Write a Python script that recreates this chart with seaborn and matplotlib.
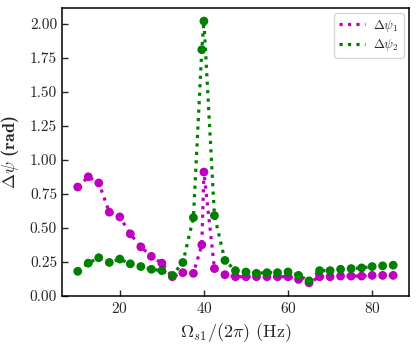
# -*- coding: utf-8 -*-
# phase difference vs modulation frequency
import seaborn as sns
import matplotlib.pyplot as plt
import pandas as pd

sns.set_style("white")
plt.rcParams['font.family'] = ['cmr10', 'DejaVu Serif']
plt.rcParams['mathtext.fontset'] = 'cm'
plt.rcParams['axes.formatter.use_mathtext'] = True

# frequencies (Hz)
freq = [10, 12.5, 15, 17.5, 20, 22.5, 25, 27.5, 30, 32.5, 35, 37.5, 39.5, 40,
        42.5, 45, 47.5, 50, 52.5, 55, 57.5, 60, 62.5, 65, 67.5, 70, 72.5, 75,
        77.5, 80, 82.5, 85]
# phase differences (rad)
dpsi1 = [0.80, 0.875, 0.83, 0.615, 0.58, 0.455, 0.36, 0.29, 0.24, 0.14, 0.17,
         0.165, 0.375, 0.91, 0.20, 0.155, 0.14, 0.14, 0.14, 0.14, 0.14, 0.14,
         0.12, 0.095, 0.14, 0.14, 0.145, 0.145, 0.145, 0.15, 0.15, 0.15]
dpsi2 = [0.18, 0.24, 0.28, 0.245, 0.27, 0.235, 0.215, 0.195, 0.185, 0.15, 0.245,
         0.575, 1.81, 2.02, 0.59, 0.26, 0.185, 0.175, 0.165, 0.17, 0.17, 0.175,
         0.15, 0.11, 0.185, 0.185, 0.195, 0.20, 0.205, 0.215, 0.22, 0.225]

df = pd.DataFrame({"f": freq, "p1": dpsi1, "p2": dpsi2})

fig, ax = plt.subplots(figsize=(4.16, 3.49), dpi=100)

for col, c, lab in [("p1", "m", r"$\Delta\psi_1$"), ("p2", "g", r"$\Delta\psi_2$")]:
    sns.lineplot(data=df, x="f", y=col, color=c, linestyle=":", linewidth=2.3,
                 label=lab, ax=ax)
    sns.scatterplot(data=df, x="f", y=col, color=c, s=40, edgecolor="none",
                    ax=ax, zorder=3)

ax.set_xticks([20, 40, 60, 80])
ax.set_yticks([0, 0.25, 0.5, 0.75, 1.0, 1.25, 1.5, 1.75, 2.0])
ax.set_yticklabels(["%.2f" % v for v in ax.get_yticks()])
ax.tick_params(direction="in", labelsize=11, length=4, width=1, left=True, bottom=True)
for s in ax.spines.values():
    s.set_linewidth(1.1)
    s.set_color("black")

ax.set_xlabel(r"$\Omega_{s1}/(2\pi)$ (Hz)", fontsize=13)
ax.set_ylabel(r"$\Delta\psi$ (rad)", fontsize=13, fontfamily="cmb10", labelpad=6)
ax.legend(loc="upper right", fontsize=9.5, handlelength=2.0, handletextpad=0.6,
          borderpad=0.35, labelspacing=0.25, borderaxespad=0.4)

fig.subplots_adjust(left=0.149, right=0.983, top=0.977, bottom=0.152)
fig.savefig("out.png", dpi=100)
